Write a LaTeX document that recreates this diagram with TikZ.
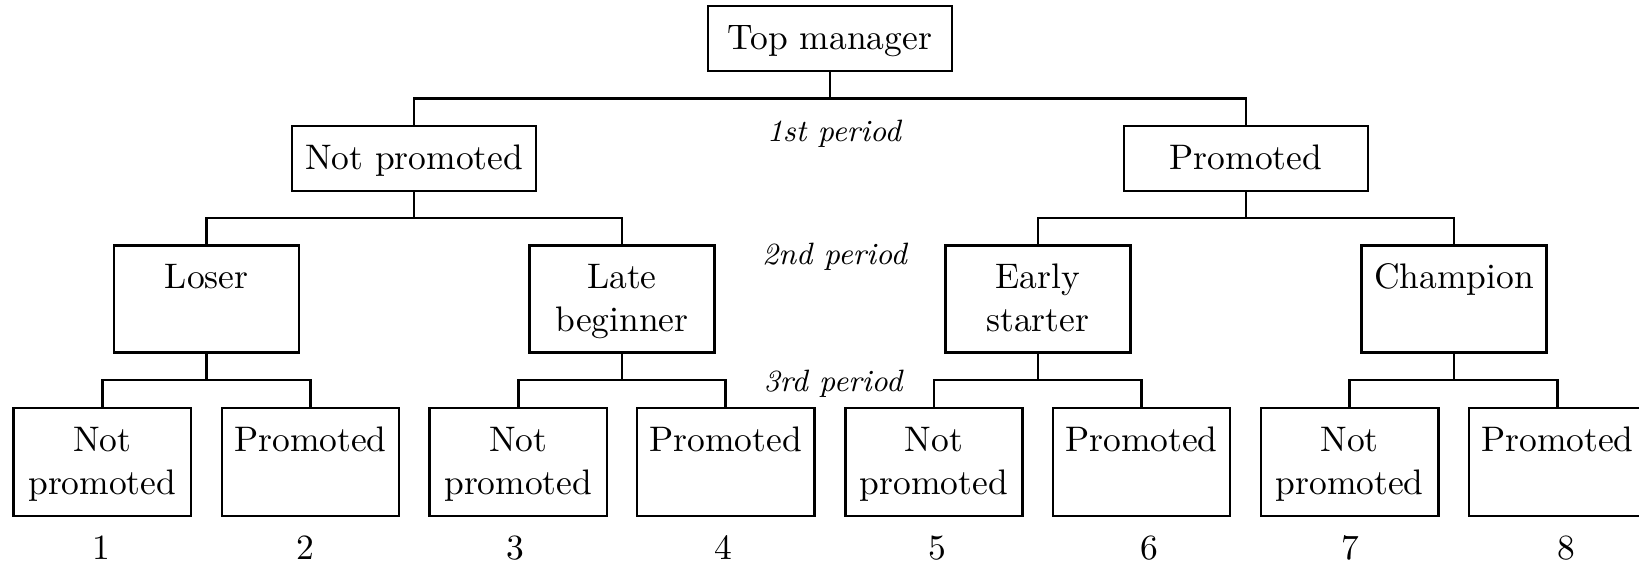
\documentclass[tikz,border=0pt]{standalone}
\newcommand{\bstrut}{\rule[-2.9pt]{0pt}{12pt}}
\begin{document}
\begin{tikzpicture}[x=0.2819pt,y=-0.2819pt,
  every node/.style={inner sep=1pt},
  box/.style={draw,line width=0.7pt,align=center,font=\normalsize},
  widebox/.style={box,minimum width=68.8pt,minimum height=18.24pt},
  midbox/.style={box,minimum width=52.15pt,minimum height=30.16pt},
  leafbox/.style={box,minimum width=49.98pt,minimum height=30.5pt},
  conn/.style={line width=0.7pt},
  periodlbl/.style={font=\fontsize{8.7}{10}\selectfont\itshape,anchor=base},
  numlbl/.style={anchor=base}]
\useasboundingbox (0,0) rectangle (1639,565);
% level 0
\node[widebox] (top) at (830,38.5) {\bstrut Top manager};
% level 1
\node[widebox] (np) at (414.2,158.4) {\bstrut Not promoted};
\node[widebox] (p) at (1246,158.4) {\bstrut Promoted};
% level 2
\node[midbox] (los) at (206.6,299.2) {\bstrut Loser\\\bstrut};
\node[midbox] (late) at (622,299.2) {\bstrut Late\\\bstrut beginner};
\node[midbox] (early) at (1037.9,299.2) {\bstrut Early\\\bstrut starter};
\node[midbox] (champ) at (1454.2,299.2) {\bstrut Champion\\\bstrut};
% leaves
\node[leafbox] (l1) at (102.3,462) {\bstrut Not\\\bstrut promoted};
\node[leafbox] (l2) at (310.4,462) {\bstrut Promoted\\\bstrut};
\node[leafbox] (l3) at (518.3,462) {\bstrut Not\\\bstrut promoted};
\node[leafbox] (l4) at (725.7,462) {\bstrut Promoted\\\bstrut};
\node[leafbox] (l5) at (933.9,462) {\bstrut Not\\\bstrut promoted};
\node[leafbox] (l6) at (1141.5,462) {\bstrut Promoted\\\bstrut};
\node[leafbox] (l7) at (1349.6,462) {\bstrut Not\\\bstrut promoted};
\node[leafbox] (l8) at (1557.4,462) {\bstrut Promoted\\\bstrut};
% bus coordinates
\coordinate (b0) at (830,98.4);
\coordinate (b1) at (414.2,218.2);
\coordinate (b2) at (1246,218.2);
\coordinate (c1) at (206.6,380.2);
\coordinate (c2) at (622,380.2);
\coordinate (c3) at (1037.9,380.2);
\coordinate (c4) at (1454.2,380.2);
% connectors
\draw[conn] (top.south) -- (b0);
\draw[conn] (np.north) |- (b0) -| (p.north);
\draw[conn] (np.south) -- (b1);
\draw[conn] (los.north) |- (b1) -| (late.north);
\draw[conn] (p.south) -- (b2);
\draw[conn] (early.north) |- (b2) -| (champ.north);
\draw[conn] (los.south) -- (c1);
\draw[conn] (l1.north) |- (c1) -| (l2.north);
\draw[conn] (late.south) -- (c2);
\draw[conn] (l3.north) |- (c2) -| (l4.north);
\draw[conn] (early.south) -- (c3);
\draw[conn] (l5.north) |- (c3) -| (l6.north);
\draw[conn] (champ.south) -- (c4);
\draw[conn] (l7.north) |- (c4) -| (l8.north);
% period labels
\node[periodlbl] (per1) at (833.8,141.7) {1st period};
\node[periodlbl] (per2) at (834.5,265) {2nd period};
\node[periodlbl] (per3) at (833,391.7) {3rd period};
% numbers
\node[numlbl] (n1) at (101.7,559.5) {1};
\node[numlbl] (n2) at (305,559.5) {2};
\node[numlbl] (n3) at (515,559.5) {3};
\node[numlbl] (n4) at (723,559.5) {4};
\node[numlbl] (n5) at (937.5,559.5) {5};
\node[numlbl] (n6) at (1149,559.5) {6};
\node[numlbl] (n7) at (1350,559.5) {7};
\node[numlbl] (n8) at (1566,559.5) {8};
\end{tikzpicture}
\end{document}
